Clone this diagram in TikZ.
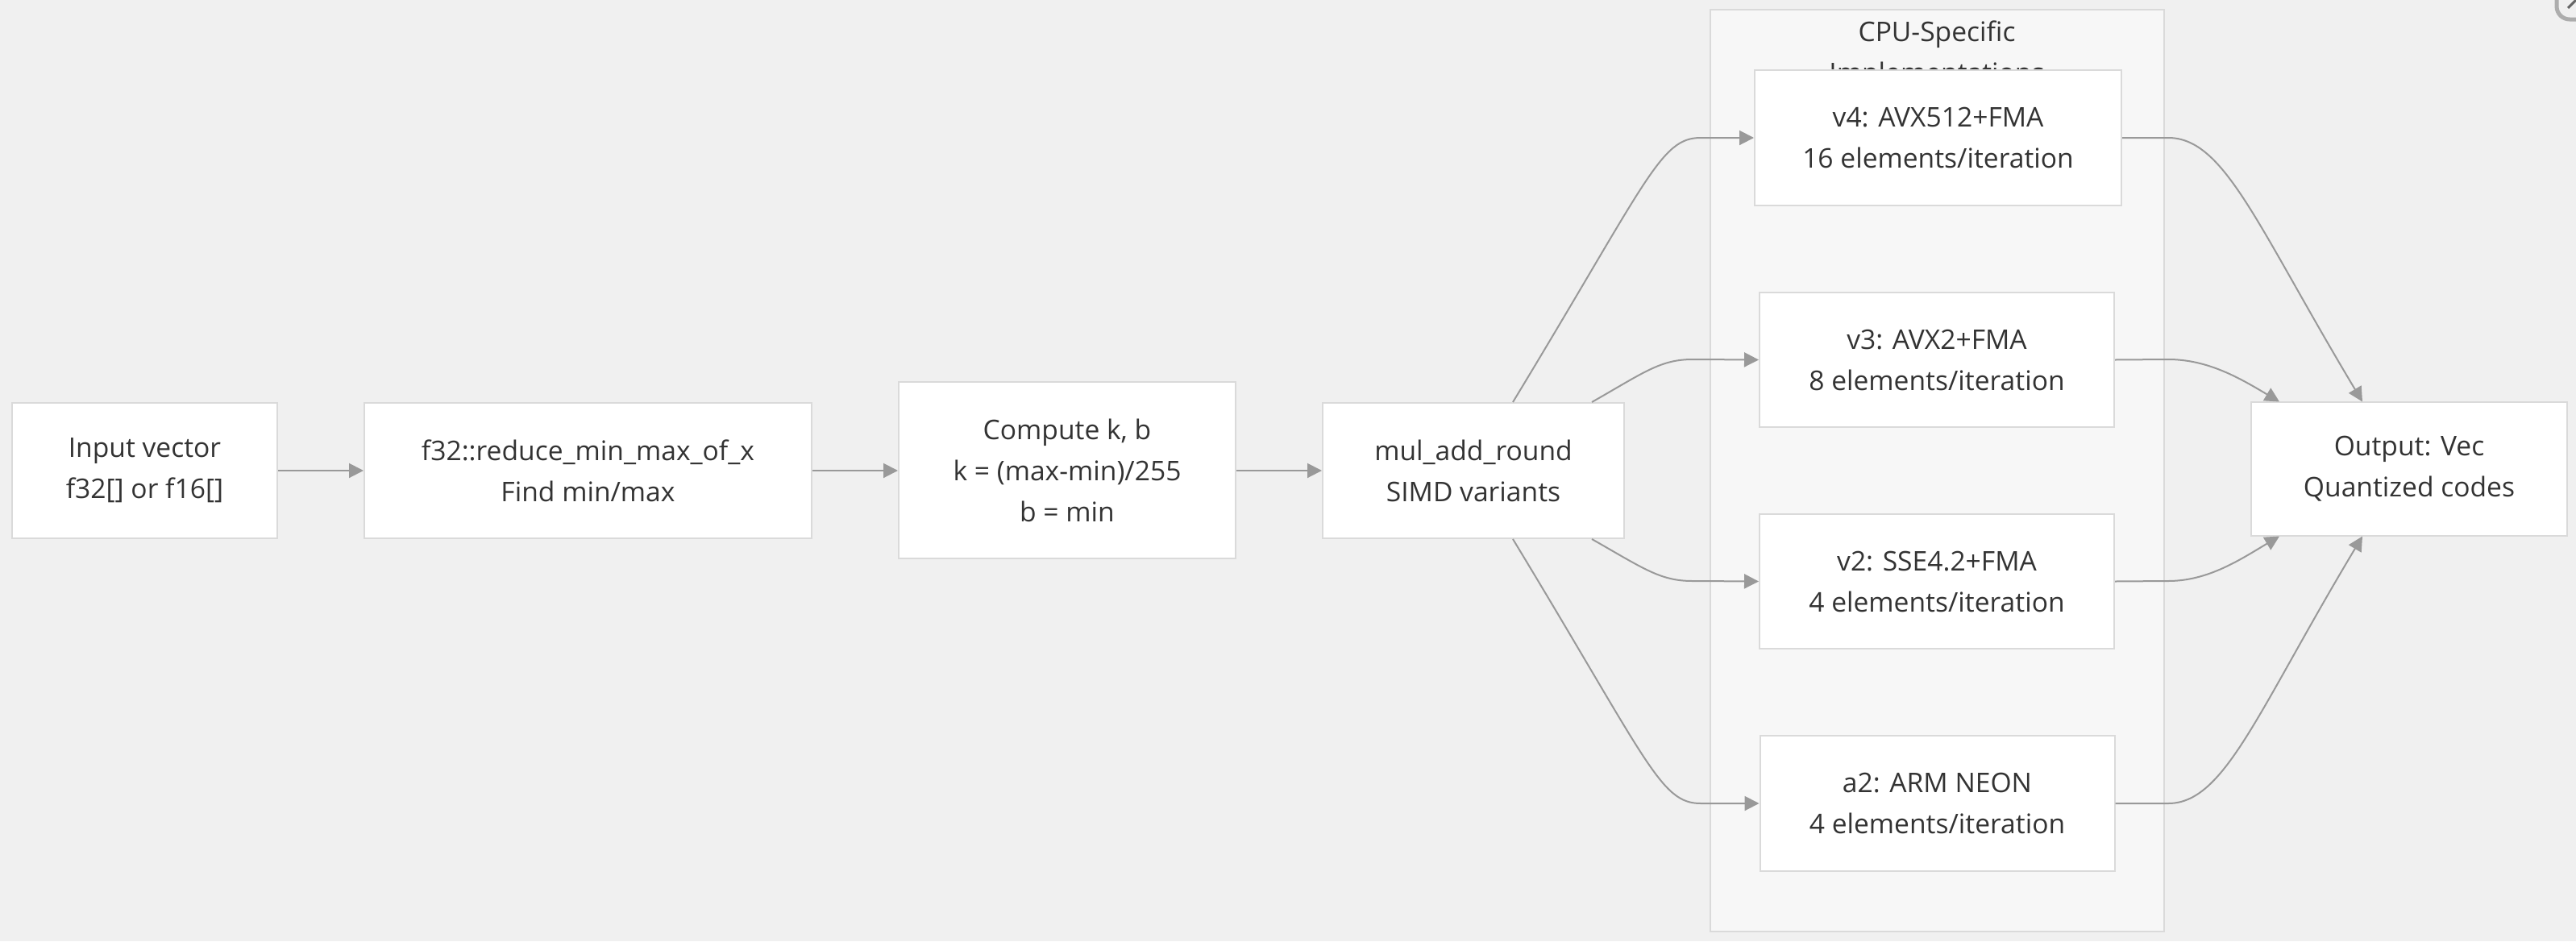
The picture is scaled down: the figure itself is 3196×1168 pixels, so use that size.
\documentclass[tikz,border=0pt]{standalone}
\usepackage{fontspec}
\setmainfont{Open Sans}
\usetikzlibrary{arrows.meta,calc}
\definecolor{bgc}{HTML}{F0F0F0}
\definecolor{clc}{HTML}{F7F7F7}
\definecolor{bdc}{HTML}{DADADA}
\definecolor{txc}{HTML}{333333}
\definecolor{arc}{HTML}{999999}
\tikzset{
  txtfont/.style={font=\fontsize{16.8pt}{25.5pt}\selectfont},
  box/.style={draw=bdc, line width=1pt, fill=white, text=txc, align=center,
    inner sep=0pt, txtfont, execute at begin node={\rule{0pt}{17.5pt}}},
  link/.style={draw=arc, line width=1pt, -{Triangle[length=9pt,width=9pt]}}
}
\begin{document}
\begin{tikzpicture}[x=0.5pt,y=-0.5pt]
\useasboundingbox (0,0) rectangle (3196,1168);
\fill[bgc] (0,0) rectangle (3196,1168);
% cluster
\draw[bdc, fill=clc, line width=1pt] (2122,12) rectangle (2685,1156);
\node[text=txc, align=center, txtfont] (ctitle) at (2403,68) {CPU-Specific\\Implementations};
% nodes
\node[box, minimum width=164.5pt, minimum height=84pt] (in) at (179.5,584) {Input vector\\f32[] or f16[]};
\node[box, minimum width=277.5pt, minimum height=84pt] (red) at (729.5,584) {f32::reduce\_min\_max\_of\_x\\Find min/max};
\node[box, minimum width=209pt, minimum height=109.5pt] (comp) at (1324,583.5) {Compute k, b\\k = (max-min)/255\\b = min};
\node[box, minimum width=187pt, minimum height=84pt] (mul) at (1828,584) {mul\_add\_round\\SIMD variants};
\node[box, minimum width=227.5pt, minimum height=84pt] (v4) at (2404.5,171) {v4: AVX512+FMA\\16 elements/iteration};
\node[box, minimum width=220pt, minimum height=83.5pt] (v3) at (2403,446.5) {v3: AVX2+FMA\\8 elements/iteration};
\node[box, minimum width=220pt, minimum height=83.5pt] (v2) at (2403,721.5) {v2: SSE4.2+FMA\\4 elements/iteration};
\node[box, minimum width=220pt, minimum height=84pt] (a2) at (2403.5,997) {a2: ARM NEON\\4 elements/iteration};
\node[box, minimum width=196pt, minimum height=83pt] (out) at (2989,582) {Output: Vec\\Quantized codes};
% straight links
\draw[link] (in.east) -- (red.west);
\draw[link] (red.east) -- (red.east -| comp.west);
\draw[link] (comp.east |- mul.west) -- (mul.west);
% fan out
\draw[link] ($(mul.north)+(49,0)$) .. controls (2045,222) and (2060,171) .. (2110,171) -- (v4.west);
\draw[link] ($(mul.north)+(147,0)$) .. controls (2040,462) and (2060,446) .. (2100,446) -- (v3.west);
\draw[link] ($(mul.south)+(147,0)$) .. controls (2040,706) and (2060,721) .. (2100,721) -- (v2.west);
\draw[link] ($(mul.south)+(49,0)$) .. controls (2045,946) and (2060,997) .. (2110,997) -- (a2.west);
% fan in
\coordinate (o1) at (2931,498.5);
\coordinate (o2) at (2828,498.5);
\coordinate (o3) at (2828,665.5);
\coordinate (o4) at (2931,665.5);
\draw[link] (v4.east) -- (2690,171) .. controls (2760,171) and (2800,280) .. (o1);
\draw[link] (v3.east) -- (2690,446) .. controls (2740,446) and (2780,470) .. (o2);
\draw[link] (v2.east) -- (2690,721) .. controls (2740,721) and (2780,694) .. (o3);
\draw[link] (a2.east) -- (2690,997) .. controls (2760,997) and (2800,884) .. (o4);
% corner icon
\draw[draw=arc!80, line width=2.5pt, rounded corners=8pt, fill=bgc] (3172,-30) rectangle (3230,24);
\draw[draw=black!60, line width=1.5pt] (3186,10) -- (3198,-2);
\end{tikzpicture}
\end{document}
